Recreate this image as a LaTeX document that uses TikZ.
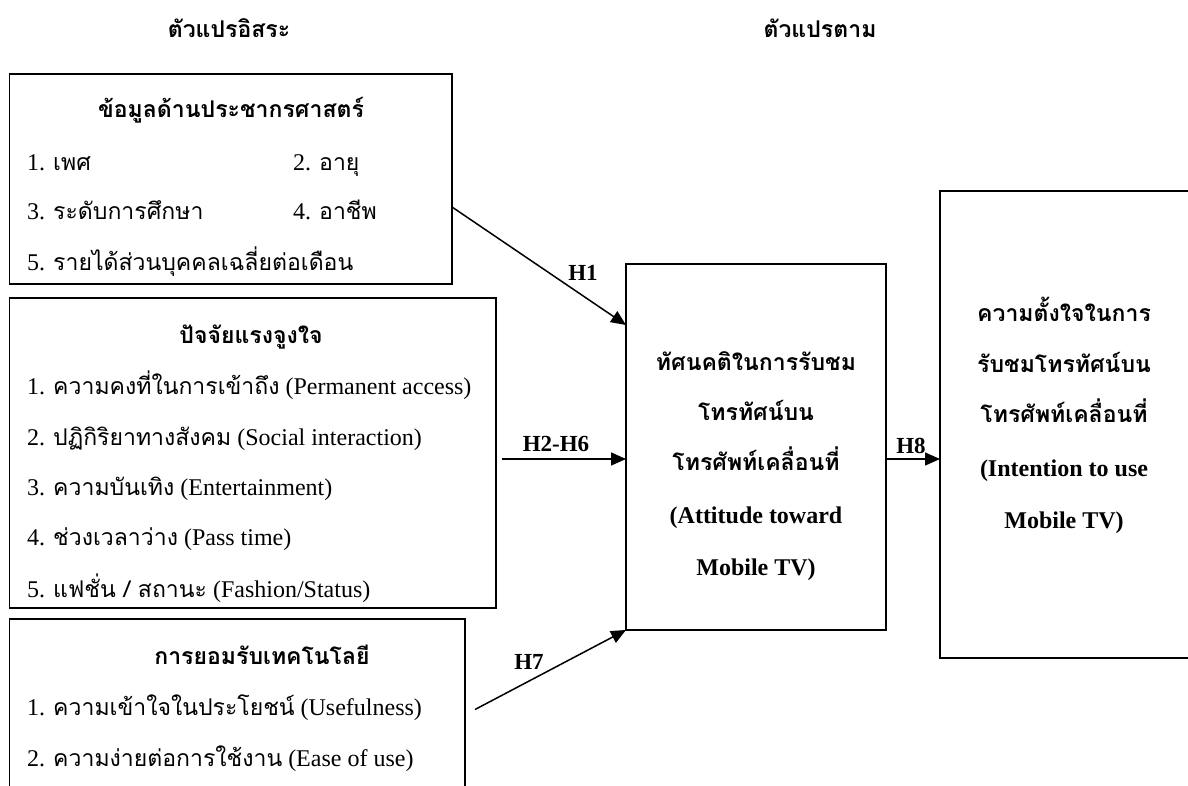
\documentclass[tikz,border=0pt]{standalone}
\usepackage{fontspec}
\setmainfont{Liberation Serif}
\newfontfamily\thai[Script=Thai,Scale=0.96]{Loma}
\usetikzlibrary{arrows.meta}
\newcommand{\T}[1]{{\thai #1}}
\begin{document}
\begin{tikzpicture}[x=1pt,y=-1pt,
  boxst/.style={draw, line width=1.3pt, inner sep=0pt, outer sep=0pt, anchor=north west},
  txt/.style={inner sep=0pt, anchor=base west, font=\fontsize{24}{28}\selectfont},
  hd/.style={inner sep=0pt, anchor=base, font=\fontsize{24}{28}\selectfont\bfseries},
  lab/.style={inner sep=0pt, anchor=base, font=\fontsize{23}{27}\selectfont\bfseries},
  arr/.style={line width=1.5pt, -{Triangle[length=15pt,width=13pt]}}]
\useasboundingbox (0,0) rectangle (1188,786);
\clip (0,0) rectangle (1188,786);

% titles
\node[hd] (t1) at (229,38) {\T{ตัวแปรอิสระ}};
\node[hd] (t2) at (820,38) {\T{ตัวแปรตาม}};

% boxes
\node[boxst, minimum width=442.5pt, minimum height=210pt] (b1) at (9.5,74) {};
\node[boxst, minimum width=486.5pt, minimum height=310pt] (b2) at (9.5,298) {};
\node[boxst, minimum width=455.5pt, minimum height=190pt] (b3) at (9.5,619) {};
\node[boxst, minimum width=260pt, minimum height=366pt] (b4) at (626,264) {};
\node[boxst, minimum width=255pt, minimum height=467pt] (b5) at (940,191) {};

% box 1
\node[hd] (b1h) at (231,118) {\T{ข้อมูลด้านประชากรศาสตร์}};
\node[txt] (b1a) at (27,171) {1. \T{เพศ}};
\node[txt] (b1b) at (293,171) {2. \T{อายุ}};
\node[txt] (b1c) at (27,220) {3. \T{ระดับการศึกษา}};
\node[txt] (b1d) at (293,220) {4. \T{อาชีพ}};
\node[txt] (b1e) at (27,270) {5. \T{รายได้ส่วนบุคคลเฉลี่ยต่อเดือน}};

% box 2
\node[hd] (b2h) at (251,343) {\T{ปัจจัยแรงจูงใจ}};
\node[txt] (b2a) at (27,394) {1. \T{ความคงที่ในการเข้าถึง} (Permanent access)};
\node[txt] (b2b) at (27,445) {2. \T{ปฏิกิริยาทางสังคม} (Social interaction)};
\node[txt] (b2c) at (27,495) {3. \T{ความบันเทิง} (Entertainment)};
\node[txt] (b2d) at (27,545) {4. \T{ช่วงเวลาว่าง} (Pass time)};
\node[txt] (b2e) at (27,597) {5. \T{แฟชั่น / สถานะ} (Fashion/Status)};

% box 3
\node[hd] (b3h) at (262,664) {\T{การยอมรับเทคโนโลยี}};
\node[txt] (b3a) at (27,715) {1. \T{ความเข้าใจในประโยชน์} (Usefulness)};
\node[txt] (b3b) at (27,766) {2. \T{ความง่ายต่อการใช้งาน} (Ease of use)};

% box 4
\node[hd] (b4a) at (756,370) {\T{ทัศนคติในการรับชม}};
\node[hd] (b4b) at (756,420) {\T{โทรทัศน์บน}};
\node[hd] (b4c) at (756,470) {\T{โทรศัพท์เคลื่อนที่}};
\node[hd] (b4d) at (756,523) {(Attitude toward};
\node[hd] (b4e) at (756,575) {Mobile TV)};

% box 5
\node[hd] (b5a) at (1064,321) {\T{ความตั้งใจในการ}};
\node[hd] (b5b) at (1064,372) {\T{รับชมโทรทัศน์บน}};
\node[hd] (b5c) at (1064,422) {\T{โทรศัพท์เคลื่อนที่}};
\node[hd] (b5d) at (1064,476) {(Intention to use};
\node[hd] (b5e) at (1064,528) {Mobile TV)};

% connectors
\coordinate (h1s) at ([yshift=-28pt]b1.east);
\coordinate (h1e) at ([yshift=122pt]b4.west);
\draw[arr] (h1s) -- (h1e);
\node[lab] (h1) at (583,280) {H1};

\coordinate (h2s) at ([xshift=6pt,yshift=-6pt]b2.east);
\draw[arr] (h2s) -- (h2s -| b4.west);
\node[lab] (h2) at (556,451) {H2-H6};

\coordinate (h7s) at ([xshift=10pt,yshift=4.5pt]b3.east);
\draw[arr] (h7s) -- (b4.south west);
\node[lab] (h7) at (529,669) {H7};

\coordinate (h8s) at ([yshift=-12pt]b4.east);
\draw[arr] (h8s) -- (h8s -| b5.west);
\node[lab] (h8) at (911,453) {H8};
\end{tikzpicture}
\end{document}
